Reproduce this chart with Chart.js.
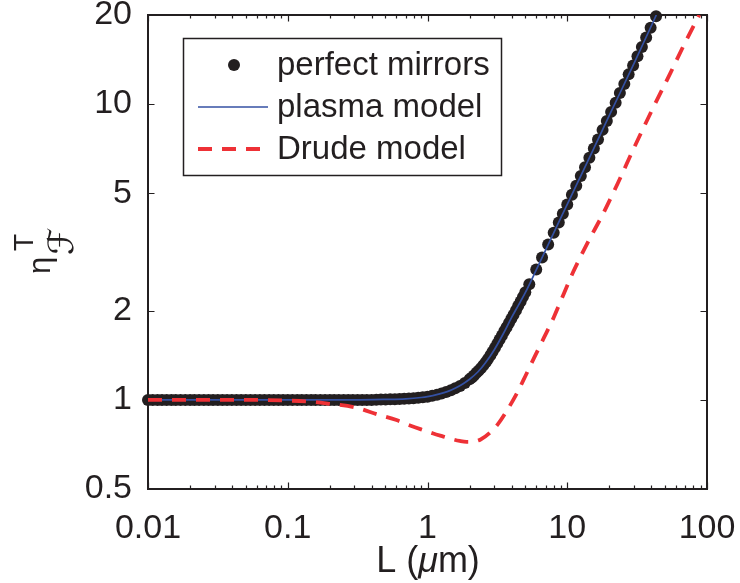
<!DOCTYPE html>
<html>
<head>
<meta charset="utf-8">
<script src="https://cdn.jsdelivr.net/npm/chart.js@4/dist/chart.umd.min.js"></script>
<style>
  html, body { margin: 0; padding: 0; background: #fff; }
  canvas { display: block; }
</style>
</head>
<body>
<canvas id="c" width="740" height="583"></canvas>
<script>
// Separation L (µm) and normalised free energy for perfect mirrors (dots)
const mirrorL = [
  0.0100, 0.0108, 0.0117, 0.0126, 0.0136, 0.0147, 0.0158, 0.0171, 0.0185, 0.0200,
  0.0215, 0.0232, 0.0251, 0.0271, 0.0292, 0.0316, 0.0341, 0.0368, 0.0398, 0.0430,
  0.0464, 0.0501, 0.0541, 0.0584, 0.0631, 0.0681, 0.0736, 0.0794, 0.0858, 0.0926,
  0.100, 0.108, 0.117, 0.126, 0.136, 0.147, 0.158, 0.171, 0.185, 0.200,
  0.215, 0.232, 0.251, 0.271, 0.292, 0.316, 0.341, 0.368, 0.398, 0.430,
  0.464, 0.501, 0.541, 0.584, 0.631, 0.681, 0.736, 0.794, 0.858, 0.926,
  1.00, 1.08, 1.17, 1.26, 1.36, 1.47, 1.58, 1.71, 1.85,
  2.00, 2.08, 2.15, 2.24, 2.32, 2.41, 2.51, 2.61, 2.71, 2.82,
  2.92, 3.04, 3.16, 3.28, 3.41, 3.55, 3.68, 3.83, 3.98, 4.13,
  4.30, 4.46, 4.64, 4.82, 5.01,
  5.35, 6.0, 6.6, 7.3, 8.0, 8.7, 9.3, 10.0,
  10.8, 11.6, 12.5, 13.4, 14.4, 15.5, 16.6, 17.9, 19.2, 20.6,
  22.2, 23.8, 25.6, 27.5, 29.6, 31.8, 34.2, 36.7, 39.5, 43.2
];
const mirrorEta = [
  1, 1, 1, 1, 1, 1, 1, 1, 1, 1,
  1, 1, 1, 1, 1, 1, 1, 1, 1, 1,
  1, 1, 1, 1, 1, 1, 1, 1, 1, 1,
  1, 1, 1, 1, 1, 1, 1, 1, 1, 1,
  1, 1, 1, 1, 1, 1, 1, 1, 1, 1.002,
  1.003, 1.004, 1.005, 1.006, 1.008, 1.009, 1.011, 1.014, 1.017, 1.021,
  1.026, 1.033, 1.042, 1.052, 1.064, 1.079, 1.095, 1.115, 1.14,
  1.175, 1.19, 1.21, 1.235, 1.255, 1.28, 1.31, 1.34, 1.375, 1.415,
  1.455, 1.50, 1.55, 1.60, 1.65, 1.71, 1.76, 1.82, 1.88, 1.94,
  2.01, 2.08, 2.15, 2.23, 2.31,
  2.46, 2.76, 3.03, 3.35, 3.67, 3.98, 4.26, 4.58,
  4.94, 5.30, 5.71, 6.12, 6.58, 7.08, 7.59, 8.18, 8.77, 9.41,
  10.1, 10.9, 11.7, 12.6, 13.5, 14.5, 15.6, 16.8, 18.1, 19.8
];

// Plasma model curve
const plasmaL = [0.01, 0.1, 0.3, 0.5, 0.7, 0.9, 1.0, 1.2, 1.4, 1.6, 1.8, 2.0, 2.3, 2.6,
  3.0, 3.5, 4.0, 4.5, 5.0, 6.0, 7.0, 8.5, 10, 14, 20, 30, 43.4];
const plasmaEta = [1.0, 1.0, 1.0, 1.004, 1.009, 1.019, 1.026, 1.046, 1.069, 1.10, 1.135, 1.175, 1.245, 1.335,
  1.475, 1.68, 1.90, 2.10, 2.30, 2.75, 3.21, 3.90, 4.58, 6.40, 9.15, 13.7, 20.0];

// Drude model curve
const drudeL = [0.01, 0.03, 0.06, 0.1, 0.15, 0.2, 0.3, 0.45, 0.6, 0.75, 0.9, 1.1, 1.3, 1.5,
  1.7, 1.9, 2.1, 2.4, 2.8, 3.2, 3.7, 4.3, 5.0, 5.8, 6.8, 8.0, 9.5, 11, 14, 18, 23, 30, 40, 55, 70, 88];
const drudeEta = [1.0, 1.0, 1.0, 0.995, 0.985, 0.97, 0.945, 0.89, 0.855, 0.82, 0.795, 0.77, 0.752, 0.737,
  0.727, 0.722, 0.723, 0.735, 0.775, 0.83, 0.92, 1.04, 1.20, 1.39, 1.62, 1.90, 2.30, 2.70, 3.40, 4.25, 5.40, 7.1, 9.45, 12.8, 16.2, 20.0];

// Axis ticks
const xTickValues = [0.01, 0.02, 0.03, 0.04, 0.05, 0.06, 0.07, 0.08, 0.09,
  0.1, 0.2, 0.3, 0.4, 0.5, 0.6, 0.7, 0.8, 0.9,
  1, 2, 3, 4, 5, 6, 7, 8, 9,
  10, 20, 30, 40, 50, 60, 70, 80, 90, 100];
const xMajorTicks = [0.01, 0.1, 1, 10, 100];
const xMajorLabels = ['0.01', '0.1', '1', '10', '100'];
const yTicks = [0.5, 1, 2, 5, 10, 20];
const yTickLabels = ['0.5', '1', '2', '5', '10', '20'];

const legendLabels = ['perfect mirrors', 'plasma model', 'Drude model'];

const INK = '#231f20';
const BLUE = '#3451a3';
const RED = '#ee3136';
const FONT = '"Liberation Sans", Arial, Helvetica, sans-serif';

const pts = (xs, ys) => xs.map((v, i) => ({ x: v, y: ys[i] }));
const sameLog = (a, b) => Math.abs(Math.log10(a) - Math.log10(b)) < 1e-6;
const majorIndex = (v) => xMajorTicks.findIndex(m => sameLog(m, v));

// Tick labels may overhang the plot box; keep them from shrinking it
const noOverhang = (s) => {
  s.paddingTop = 0; s.paddingBottom = 0; s.paddingLeft = 0; s.paddingRight = 0;
};

// Box, inward tick marks on all four sides
const framePlugin = {
  id: 'frame',
  beforeDatasetsDraw(chart) {
    const { ctx, chartArea: a, scales } = chart;
    ctx.save();
    ctx.strokeStyle = INK;
    ctx.lineWidth = 1.2;
    ctx.beginPath();
    scales.x.ticks.forEach(t => {
      const px = Math.round(scales.x.getPixelForValue(t.value)) + 0.5;
      const len = majorIndex(t.value) >= 0 ? 6.5 : 3.5;
      ctx.moveTo(px, a.bottom); ctx.lineTo(px, a.bottom - len);
      ctx.moveTo(px, a.top); ctx.lineTo(px, a.top + len);
    });
    scales.y.ticks.forEach(t => {
      const py = Math.round(scales.y.getPixelForValue(t.value)) + 0.5;
      ctx.moveTo(a.left, py); ctx.lineTo(a.left + 6.5, py);
      ctx.moveTo(a.right, py); ctx.lineTo(a.right - 6.5, py);
    });
    ctx.stroke();
    ctx.lineWidth = 2;
    ctx.strokeRect(a.left, a.top, a.right - a.left, a.bottom - a.top);
    ctx.restore();
  }
};

// Axis titles and the boxed legend
const annotatePlugin = {
  id: 'annotate',
  afterDraw(chart) {
    const ctx = chart.ctx;
    const ds = chart.data.datasets;
    ctx.save();
    ctx.fillStyle = INK;

    // x-axis title: L (µm) with an italic mu
    const parts = [['L (', 'normal'], ['\u03bc', 'italic'], ['m)', 'normal']];
    let total = 0;
    parts.forEach(p => { ctx.font = p[1] + ' 36px ' + FONT; total += ctx.measureText(p[0]).width; });
    let x = 428 - total / 2;
    ctx.textBaseline = 'alphabetic';
    ctx.textAlign = 'left';
    parts.forEach(p => {
      ctx.font = p[1] + ' 36px ' + FONT;
      ctx.fillText(p[0], x, 572);
      x += ctx.measureText(p[0]).width;
    });

    // y-axis title: eta with superscript T and script-F subscript
    ctx.save();
    ctx.translate(50, 274);
    ctx.rotate(-Math.PI / 2);
    ctx.font = '31px ' + FONT;
    ctx.fillText('\u03b7', 0, 0);
    ctx.font = '28px ' + FONT;
    ctx.fillText('T', 23, -17);
    ctx.font = '35px "DejaVu Sans", sans-serif';
    ctx.fillText('\u2131', 19, 23);
    ctx.restore();

    // legend
    const bx = 183.5, by = 38.5, bw = 318, bh = 137;
    ctx.fillStyle = '#fff';
    ctx.fillRect(bx, by, bw, bh);
    ctx.strokeStyle = INK;
    ctx.lineWidth = 1.5;
    ctx.strokeRect(bx, by, bw, bh);
    const rows = [65, 107, 149];
    // dot sample
    ctx.fillStyle = ds[0].pointBackgroundColor;
    ctx.beginPath();
    ctx.arc(234, rows[0], ds[0].pointRadius, 0, Math.PI * 2);
    ctx.fill();
    // line samples
    [1, 2].forEach(i => {
      ctx.strokeStyle = ds[i].borderColor;
      ctx.lineWidth = ds[i].borderWidth;
      ctx.setLineDash(ds[i].borderDash || []);
      ctx.beginPath();
      ctx.moveTo(198, rows[i]);
      ctx.lineTo(268, rows[i]);
      ctx.stroke();
    });
    ctx.setLineDash([]);
    ctx.fillStyle = INK;
    ctx.font = '33px ' + FONT;
    ctx.textBaseline = 'middle';
    legendLabels.forEach((t, i) => ctx.fillText(t, 277, rows[i] + 1));
    ctx.restore();
  }
};

new Chart(document.getElementById('c'), {
  type: 'line',
  data: {
    datasets: [
      {
        label: legendLabels[0],
        data: pts(mirrorL, mirrorEta),
        showLine: false,
        pointRadius: 6,
        pointBackgroundColor: INK,
        pointBorderWidth: 0,
        pointBorderColor: INK,
        clip: false,
        order: 3
      },
      {
        label: legendLabels[1],
        data: pts(plasmaL, plasmaEta),
        borderColor: BLUE,
        borderWidth: 1.7,
        pointRadius: 0,
        fill: false,
        cubicInterpolationMode: 'monotone',
        order: 2
      },
      {
        label: legendLabels[2],
        data: pts(drudeL, drudeEta),
        borderColor: RED,
        borderWidth: 3.8,
        borderDash: [14, 10],
        pointRadius: 0,
        fill: false,
        cubicInterpolationMode: 'monotone',
        order: 1
      }
    ]
  },
  options: {
    responsive: false,
    animation: false,
    events: [],
    layout: { padding: { left: 0, top: 15, right: 33, bottom: 0 } },
    plugins: { legend: { display: false }, tooltip: { enabled: false } },
    scales: {
      x: {
        type: 'logarithmic',
        position: 'bottom',
        min: 0.01,
        max: 100,
        grid: { display: false },
        border: { display: false },
        afterBuildTicks: s => { s.ticks = xTickValues.map(v => ({ value: v })); },
        afterFit: s => { s.height = 94; noOverhang(s); },
        ticks: {
          autoSkip: false,
          maxRotation: 0,
          minRotation: 0,
          padding: 15,
          color: INK,
          font: { family: FONT, size: 34, lineHeight: 1 },
          callback: v => { const i = majorIndex(v); return i >= 0 ? xMajorLabels[i] : ''; }
        }
      },
      y: {
        type: 'logarithmic',
        position: 'left',
        min: 0.5,
        max: 20,
        grid: { display: false },
        border: { display: false },
        afterBuildTicks: s => { s.ticks = yTicks.map(v => ({ value: v })); },
        afterFit: s => { s.width = 148; noOverhang(s); },
        ticks: {
          autoSkip: false,
          padding: 8,
          color: INK,
          font: { family: FONT, size: 34, lineHeight: 0.8 },
          callback: v => { const i = yTicks.findIndex(m => sameLog(m, v)); return i >= 0 ? yTickLabels[i] : ''; }
        }
      }
    }
  },
  plugins: [framePlugin, annotatePlugin]
});
</script>
</body>
</html>
